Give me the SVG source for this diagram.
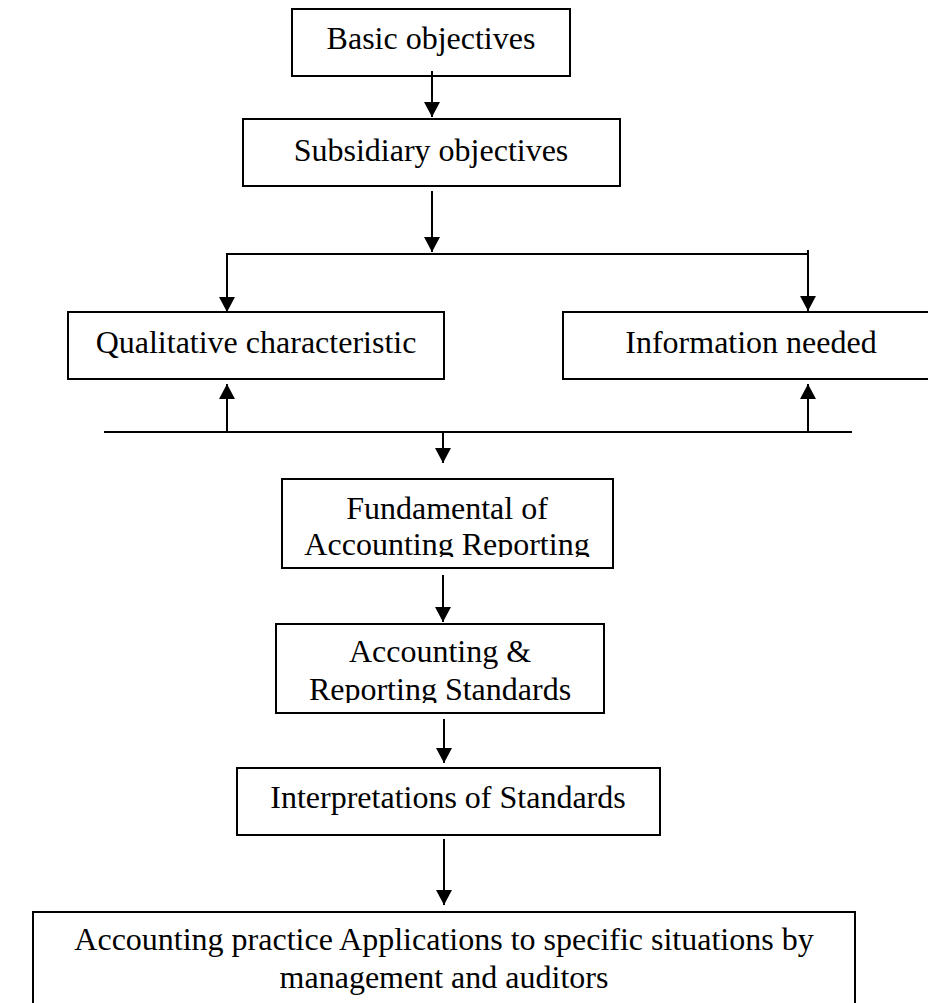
<svg xmlns="http://www.w3.org/2000/svg" width="928" height="1003" viewBox="0 0 928 1003">
<style>
.box{fill:#fff;stroke:#000;stroke-width:2}
.t{font-family:"Liberation Serif","Times New Roman",serif;font-size:32px;fill:#000;text-anchor:middle}
.c{fill:none;stroke:#000;stroke-width:2}
</style>
<defs>
<marker id="ah" viewBox="0 0 15 16" refX="15" refY="8" markerWidth="15" markerHeight="16" markerUnits="userSpaceOnUse" orient="auto">
<path d="M0,0 L15,8 L0,16 Z" fill="#000"/>
</marker>
<clipPath id="clipF"><rect x="282" y="479" width="331" height="78"/></clipPath>
<clipPath id="clipA"><rect x="276" y="624" width="328" height="79"/></clipPath>
</defs>
<g id="n-basic"><rect class="box" x="292" y="9" width="278" height="67"/><text class="t" x="431" y="49">Basic objectives</text></g>
<g id="n-subsidiary"><rect class="box" x="243" y="119" width="377" height="67"/><text class="t" x="431" y="161">Subsidiary objectives</text></g>
<g id="n-qualitative"><rect class="box" x="68" y="312" width="376" height="67"/><text class="t" x="256" y="353">Qualitative characteristic</text></g>
<g id="n-information"><rect class="box" x="563" y="312" width="380" height="67"/><text class="t" x="751" y="353">Information needed</text></g>
<g id="n-fundamental"><rect class="box" x="282" y="479" width="331" height="89"/><g clip-path="url(#clipF)"><text class="t" x="447" y="519">Fundamental of</text><text class="t" x="447" y="555">Accounting Reporting</text></g></g>
<g id="n-standards"><rect class="box" x="276" y="624" width="328" height="89"/><g clip-path="url(#clipA)"><text class="t" x="440" y="662">Accounting &amp;</text><text class="t" x="440" y="700">Reporting Standards</text></g></g>
<g id="n-interpretations"><rect class="box" x="237" y="768" width="423" height="67"/><text class="t" x="448" y="808">Interpretations of Standards</text></g>
<g id="n-practice"><rect class="box" x="33" y="912" width="822" height="120"/><text class="t" x="444" y="950">Accounting practice Applications to specific situations by</text><text class="t" x="444" y="988">management and auditors</text></g>
<g id="connectors">
<line class="c" x1="432" y1="71" x2="432" y2="117" marker-end="url(#ah)"/>
<line class="c" x1="432" y1="191" x2="432" y2="252" marker-end="url(#ah)"/>
<polyline class="c" points="227,312 227,254 808,254"/>
<line class="c" x1="227" y1="254" x2="227" y2="312" marker-end="url(#ah)"/>
<line class="c" x1="808" y1="250" x2="808" y2="311" marker-end="url(#ah)"/>
<line class="c" x1="104" y1="432" x2="852" y2="432"/>
<line class="c" x1="227" y1="432" x2="227" y2="384" marker-end="url(#ah)"/>
<line class="c" x1="808" y1="432" x2="808" y2="384" marker-end="url(#ah)"/>
<line class="c" x1="443" y1="432" x2="443" y2="463" marker-end="url(#ah)"/>
<line class="c" x1="443" y1="575" x2="443" y2="622" marker-end="url(#ah)"/>
<line class="c" x1="444" y1="719" x2="444" y2="763" marker-end="url(#ah)"/>
<line class="c" x1="444" y1="839" x2="444" y2="905" marker-end="url(#ah)"/>
</g>
</svg>
